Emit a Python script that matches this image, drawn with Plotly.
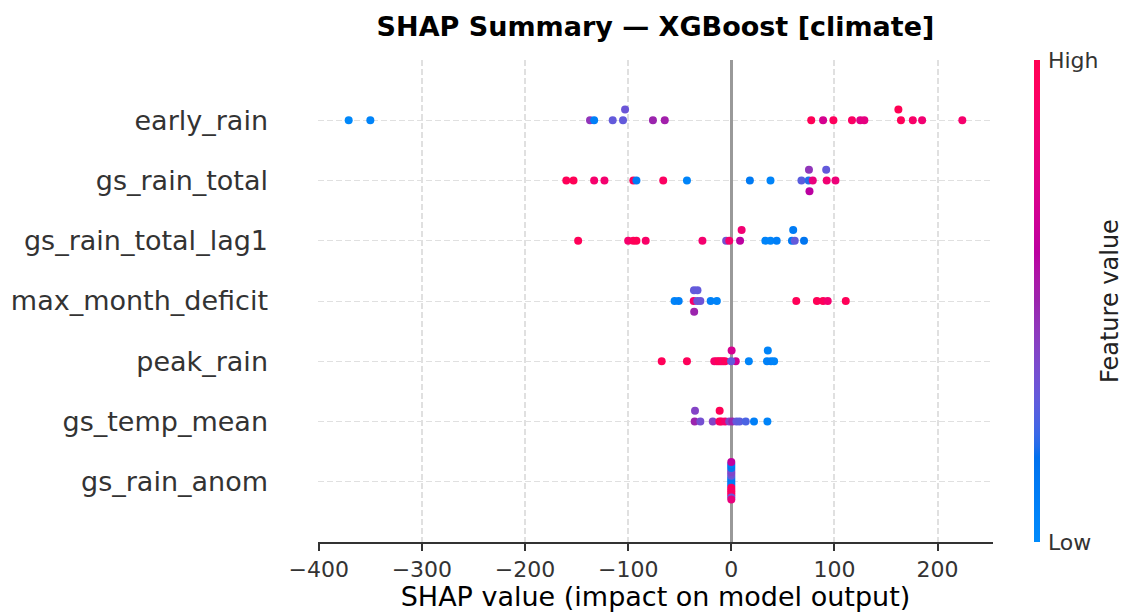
import numpy as np
import plotly.graph_objects as go

# ---------------- data (top row first) ----------------
features = ["early_rain", "gs_rain_total", "gs_rain_total_lag1",
            "max_month_deficit", "peak_rain", "gs_temp_mean", "gs_rain_anom"]

early_rain_shap = [-371, -350, -137, -133, -115, -105, -103, -76, -64.5, 77.5,
                   89, 99, 117, 125, 129, 164.5, 162, 176, 185, 224]
early_rain_fv = [0.02, 0.05, 0.45, 0.08, 0.30, 0.30, 0.32, 0.50, 0.52, 0.98,
                 0.70, 0.95, 0.92, 0.75, 0.78, 0.97, 0.99, 0.90, 0.85, 0.88]

gs_rain_total_shap = [-160, -153, -133, -123, -95, -92, -66, -43, 18, 38,
                      68, 75.0, 75.3, 75.8, 79, 92.5, 92.0, 101]
gs_rain_total_fv = [0.97, 0.98, 0.88, 0.87, 0.96, 0.10, 0.93, 0.05, 0.12, 0.05,
                    0.28, 0.20, 0.45, 0.60, 0.80, 0.85, 0.30, 0.82]

gs_rain_total_lag1_shap = [-148.5, -100, -95, -92, -83, -28, -5, -2, 8.5, 10.0,
                           33, 38, 44, 58.8, 60.0, 61.5, 70.5]
gs_rain_total_lag1_fv = [0.97, 0.88, 0.96, 0.98, 0.90, 0.87, 0.35, 0.88, 0.60, 0.85,
                         0.05, 0.05, 0.08, 0.12, 0.10, 0.30, 0.15]

max_month_deficit_shap = [-55, -51, -36.5, -36.2, -36.0, -33.0, -32.8, -30.0, -20, -14,
                          63, 83, 89, 93.5, 111]
max_month_deficit_fv = [0.05, 0.08, 0.88, 0.30, 0.50, 0.32, 0.30, 0.33, 0.07, 0.05,
                        0.97, 0.98, 0.96, 0.87, 0.97]

peak_rain_shap = [-67.5, -43, -16.5, -14, -12, -10, -8, -6, 4.3, -0.2,
                  0.3, 17, 34.6, 35.4, 38.5, 41.5]
peak_rain_fv = [0.97, 0.96, 0.88, 0.90, 0.97, 0.95, 0.90, 0.95, 0.68, 0.30,
                0.70, 0.05, 0.06, 0.05, 0.08, 0.05]

gs_temp_mean_shap = [-35.5, -35.2, -30, -18, -11.5, -11.3, -9.5, -6, -2, 1,
                     5, 8, 14, 22, 35]
gs_temp_mean_fv = [0.50, 0.40, 0.35, 0.40, 0.96, 0.98, 0.95, 0.88, 0.40, 0.50,
                   0.30, 0.28, 0.25, 0.08, 0.05]

gs_rain_anom_shap = [0.0] * 20
gs_rain_anom_fv = [0.20, 0.15, 0.10, 0.10, 0.08, 0.30, 0.90, 0.35, 0.97, 0.40,
                   0.88, 0.38, 0.95, 0.12, 0.90, 0.15, 0.30, 0.10, 0.80, 0.62]

shap_by_feature = [early_rain_shap, gs_rain_total_shap, gs_rain_total_lag1_shap,
                   max_month_deficit_shap, peak_rain_shap, gs_temp_mean_shap,
                   gs_rain_anom_shap]
fv_by_feature = [early_rain_fv, gs_rain_total_fv, gs_rain_total_lag1_fv,
                 max_month_deficit_fv, peak_rain_fv, gs_temp_mean_fv,
                 gs_rain_anom_fv]

x_ticks = [-400, -300, -200, -100, 0, 100, 200]


# ---------------- SHAP red_blue colormap (LCh interpolation) ----------------
def lch_to_rgb(l, c, h):
    a, b = c * np.cos(h), c * np.sin(h)
    fy = (l + 16) / 116.0
    fx, fz = fy + a / 500.0, fy - b / 200.0

    def finv(t):
        return t ** 3 if t > 6 / 29 else 3 * (6 / 29) ** 2 * (t - 4 / 29)

    X, Y, Z = 0.95047 * finv(fx), finv(fy), 1.08883 * finv(fz)
    r = 3.2406 * X - 1.5372 * Y - 0.4986 * Z
    g = -0.9689 * X + 1.8758 * Y + 0.0415 * Z
    bb = 0.0557 * X - 0.2040 * Y + 1.0570 * Z
    out = []
    for v in (r, g, bb):
        v = min(max(v, 0.0), 1.0)
        v = 1.055 * v ** (1 / 2.4) - 0.055 if v > 0.0031308 else 12.92 * v
        out.append(int(round(255 * min(max(v, 0), 1))))
    return "rgb({},{},{})".format(*out)


blue_lch = [54.0, 70.0, 4.6588]
l_mid = 40.0
red_lch = [54.0, 90.0, 0.35470565 + 2 * np.pi]
colorscale = []
for t in np.linspace(0, 1, 41):
    if t <= 0.5:
        l = blue_lch[0] + (l_mid - blue_lch[0]) * (t / 0.5)
    else:
        l = l_mid + (red_lch[0] - l_mid) * ((t - 0.5) / 0.5)
    c = blue_lch[1] + t * (red_lch[1] - blue_lch[1])
    h = blue_lch[2] + t * (red_lch[2] - blue_lch[2])
    colorscale.append([float(t), lch_to_rgb(l, c, h)])


# ---------------- beeswarm offsets (as in shap) ----------------
def swarm_offsets(vals, nbins=100, row_height=0.4):
    v = np.asarray(vals, dtype=float)
    quant = np.round(nbins * (v - v.min()) / (v.max() - v.min() + 1e-8))
    inds = np.argsort(quant, kind="stable")
    layer, last = 0, -1
    ys = np.zeros(len(v))
    for ind in inds:
        if quant[ind] != last:
            layer = 0
        ys[ind] = np.ceil(layer / 2) * ((layer % 2) * 2 - 1)
        layer += 1
        last = quant[ind]
    ys *= 0.9 * (row_height / np.max(ys + 1))
    return ys


n = len(features)
positions = [n - 1 - i for i in range(n)]

fig = go.Figure()
for i, name in enumerate(features):
    sv = shap_by_feature[i]
    fv = fv_by_feature[i]
    ys = positions[i] + swarm_offsets(sv)
    fig.add_trace(go.Scatter(
        x=sv, y=ys, mode="markers", name=name, showlegend=False,
        marker=dict(size=8, color=fv, coloraxis="coloraxis",
                    line=dict(width=0), opacity=1),
        hovertemplate=name + ": %{x}<extra></extra>",
    ))

FONT = "DejaVu Sans"
fig.update_layout(
    width=1123, height=612,
    margin=dict(l=318, r=130, t=60, b=70, autoexpand=False),
    paper_bgcolor="white", plot_bgcolor="white",
    font=dict(family=FONT, color="#333333"),
    title=dict(text="<b>SHAP Summary — XGBoost [climate]</b>",
               x=0.5, xref="paper", xanchor="center",
               y=1 - 27 / 612, yref="container", yanchor="middle",
               font=dict(family=FONT, size=27, color="black")),
    coloraxis=dict(
        colorscale=colorscale, cmin=0, cmax=1,
        colorbar=dict(
            thickness=6, len=1, lenmode="fraction", y=0.5, yanchor="middle",
            x=(1034 - 318) / 675, xanchor="left", xpad=0, ypad=0,
            outlinewidth=0, ticks="outside", ticklen=4,
            tickcolor="rgba(0,0,0,0)", tickvals=[0, 1], ticktext=["Low", "High"],
            tickfont=dict(family=FONT, size=22, color="#333333"),
        ),
    ),
    xaxis=dict(
        range=[-400.75, 253.75], tickvals=x_ticks, automargin=False,
        showline=True, linecolor="#333333", linewidth=1.6,
        ticks="outside", ticklen=7, tickwidth=1.6, tickcolor="#333333",
        tickfont=dict(family=FONT, size=22, color="#333333"),
        showgrid=True, gridcolor="#e0e0e0", gridwidth=1.5, griddash="6px,3px",
        zeroline=True, zerolinecolor="#999999", zerolinewidth=3,
        title=dict(text="SHAP value (impact on model output)", standoff=7,
                   font=dict(family=FONT, size=27, color="black")),
        mirror=False,
    ),
    yaxis=dict(
        range=[-1, n], tickvals=positions, ticktext=features, automargin=False,
        showline=False, ticks="", zeroline=False,
        tickfont=dict(family=FONT, size=27, color="#333333"),
        ticklabelstandoff=49,
        showgrid=True, gridcolor="#e0e0e0", gridwidth=1.2, griddash="6px,3px",
    ),
    annotations=[dict(
        text="Feature value", textangle=-90, showarrow=False,
        xref="paper", yref="paper", x=(1110 - 318) / 675, y=0.5,
        xanchor="center", yanchor="middle",
        font=dict(family=FONT, size=24, color="#222222"),
    )],
)

fig.write_html("out.html",
               config={"displayModeBar": False},
               post_script="document.body.style.margin='0';"
                           "document.body.style.overflow='hidden';")
